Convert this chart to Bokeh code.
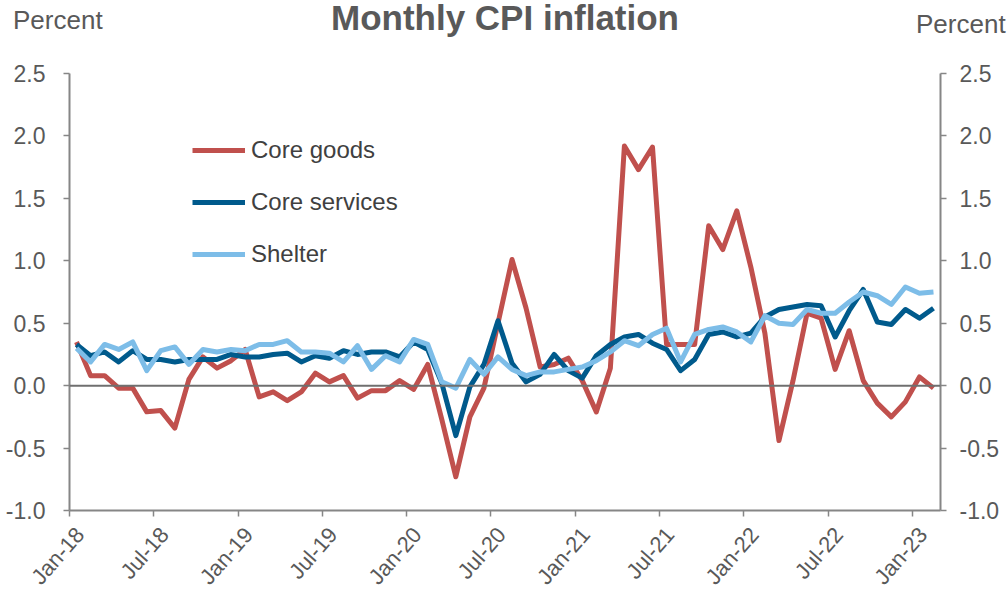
from bokeh.plotting import figure
from bokeh.layouts import column
from bokeh.models import Range1d, FixedTicker, NumeralTickFormatter, Span, Legend, LinearAxis, ColumnDataSource, Div
from bokeh.embed import file_html
from bokeh.resources import INLINE

# ---- data ----
title_text = "Monthly CPI inflation"
unit_text = "Percent"
tick_labels = ["Jan-18", "Jul-18", "Jan-19", "Jul-19", "Jan-20", "Jul-20",
               "Jan-21", "Jul-21", "Jan-22", "Jul-22", "Jan-23"]

core_goods = [0.35, 0.08, 0.08, -0.02, -0.02, -0.21, -0.20, -0.34, 0.05, 0.23, 0.14, 0.20,
              0.29, -0.09, -0.05, -0.12, -0.05, 0.10, 0.03, 0.08, -0.10, -0.04, -0.04, 0.04,
              -0.03, 0.17, -0.27, -0.73, -0.25, -0.02, 0.50, 1.01, 0.62, 0.15, 0.17, 0.22,
              0.04, -0.21, 0.14, 1.92, 1.73, 1.91, 0.33, 0.33, 0.33, 1.28, 1.09, 1.40,
              0.95, 0.42, -0.44, 0.04, 0.58, 0.54, 0.13, 0.44, 0.04, -0.14, -0.25, -0.13,
              0.07, -0.02]

core_services = [0.33, 0.24, 0.27, 0.19, 0.28, 0.21, 0.21, 0.19, 0.21, 0.21, 0.21, 0.25,
                 0.23, 0.23, 0.25, 0.26, 0.19, 0.24, 0.22, 0.28, 0.25, 0.27, 0.27, 0.23,
                 0.35, 0.29, 0.02, -0.40, -0.01, 0.17, 0.52, 0.18, 0.03, 0.09, 0.25, 0.12,
                 0.06, 0.24, 0.33, 0.39, 0.41, 0.34, 0.29, 0.12, 0.21, 0.41, 0.43, 0.39,
                 0.42, 0.55, 0.61, 0.63, 0.65, 0.64, 0.39, 0.60, 0.77, 0.51, 0.49, 0.61,
                 0.54, 0.62]

shelter = [0.30, 0.19, 0.33, 0.29, 0.35, 0.12, 0.28, 0.31, 0.17, 0.29, 0.27, 0.29,
           0.28, 0.33, 0.33, 0.36, 0.27, 0.27, 0.26, 0.19, 0.32, 0.13, 0.24, 0.19,
           0.37, 0.33, 0.03, -0.02, 0.21, 0.09, 0.23, 0.13, 0.08, 0.11, 0.11, 0.13,
           0.15, 0.20, 0.27, 0.36, 0.32, 0.41, 0.46, 0.19, 0.41, 0.45, 0.47, 0.43,
           0.35, 0.56, 0.50, 0.49, 0.61, 0.58, 0.58, 0.67, 0.75, 0.72, 0.65, 0.79,
           0.74, 0.75]

y_ticks = [-1.0, -0.5, 0.0, 0.5, 1.0, 1.5, 2.0, 2.5]

n = len(core_goods)
x = [i + 0.5 for i in range(n)]  # points centred in monthly slots
x_ticks = [6 * k for k in range(len(tick_labels))]
label_pos = [t + 0.75 for t in x_ticks]  # rotated labels sit a little right of their tick

FONT = "Liberation Sans"
GREY_TXT = "#595959"
AXIS_GREY = "#868686"
W = 1006
HEAD_H = 38

# ---- heading (title and unit labels) ----
head_html = (
    '<div style="position:relative;width:%dpx;height:%dpx;font-family:\'%s\';color:%s;white-space:nowrap;">'
    '<div style="position:absolute;left:0;top:0;width:1010px;text-align:center;'
    'font-size:35px;line-height:1;font-weight:bold;">%s</div>'
    '<div style="position:absolute;left:13px;top:7px;font-size:26px;line-height:1;">%s</div>'
    '<div style="position:absolute;left:916px;top:11px;font-size:26px;line-height:1;">%s</div>'
    '</div>'
) % (W, HEAD_H, FONT, GREY_TXT, title_text, unit_text, unit_text)
head = Div(text=head_html, width=W, height=HEAD_H, margin=0)

# ---- main chart ----
p = figure(frame_width=871, frame_height=437,
           min_border_left=69, min_border_right=66, min_border_top=35, min_border_bottom=80,
           x_range=Range1d(0, n), y_range=Range1d(-1.0, 2.5),
           output_backend="svg", toolbar_location=None,
           background_fill_color="white", border_fill_color="white",
           outline_line_color=None)
p.xgrid.visible = False
p.ygrid.visible = False

# bottom axis: tick marks at Jan/Jul (minor ticks), rotated labels just right of them
xa = p.xaxis[0]
xa.ticker = FixedTicker(ticks=label_pos, minor_ticks=x_ticks)
xa.major_label_overrides = {t: lab for t, lab in zip(label_pos, tick_labels)}
xa.major_label_orientation = 0.85
xa.major_label_text_font = FONT
xa.major_label_text_font_size = "22px"
xa.major_label_text_color = GREY_TXT
xa.axis_line_color = AXIS_GREY
xa.axis_line_width = 2
xa.major_tick_line_color = None
xa.major_tick_out = 0
xa.major_tick_in = 0
xa.minor_tick_line_color = AXIS_GREY
xa.minor_tick_line_width = 1.5
xa.minor_tick_out = 6
xa.minor_tick_in = 0
xa.major_label_standoff = 14

# left axis
ya = p.yaxis[0]
ya.ticker = FixedTicker(ticks=y_ticks)
ya.formatter = NumeralTickFormatter(format="0.0")
ya.major_label_text_font = FONT
ya.major_label_text_font_size = "23px"
ya.major_label_text_color = GREY_TXT
ya.axis_line_color = AXIS_GREY
ya.axis_line_width = 2
ya.major_tick_line_color = AXIS_GREY
ya.major_tick_line_width = 1.5
ya.major_tick_out = 6
ya.major_tick_in = 0
ya.minor_tick_line_color = None
ya.major_label_standoff = 18

# right axis
ra = LinearAxis(ticker=FixedTicker(ticks=y_ticks), formatter=NumeralTickFormatter(format="0.0"))
ra.major_label_text_font = FONT
ra.major_label_text_font_size = "23px"
ra.major_label_text_color = GREY_TXT
ra.axis_line_color = AXIS_GREY
ra.axis_line_width = 2
ra.major_tick_line_color = AXIS_GREY
ra.major_tick_line_width = 1.5
ra.major_tick_out = 6
ra.major_tick_in = 0
ra.minor_tick_line_color = None
ra.major_label_standoff = 13
p.add_layout(ra, "right")

# zero line
p.add_layout(Span(location=0, dimension="width", line_color="#6f6f6f", line_width=2))

src = ColumnDataSource(dict(x=x, goods=core_goods, services=core_services, shelter=shelter))
r1 = p.line("x", "goods", source=src, line_color="#C0504D", line_width=5, line_join="round")
r2 = p.line("x", "services", source=src, line_color="#005A8C", line_width=5, line_join="round")
r3 = p.line("x", "shelter", source=src, line_color="#7DBDE8", line_width=5, line_join="round")

legend = Legend(items=[("Core goods", [r1]), ("Core services", [r2]), ("Shelter", [r3])],
                location=(123, 242), orientation="vertical",
                label_text_font=FONT, label_text_font_size="24px", label_text_color="#404040",
                glyph_width=53, glyph_height=20, label_height=20, label_standoff=6,
                spacing=24, padding=0, margin=0,
                border_line_color=None, background_fill_alpha=0)
p.add_layout(legend, "center")

layout = column(head, p, spacing=0)
open("out.html", "w").write(file_html(layout, INLINE))
